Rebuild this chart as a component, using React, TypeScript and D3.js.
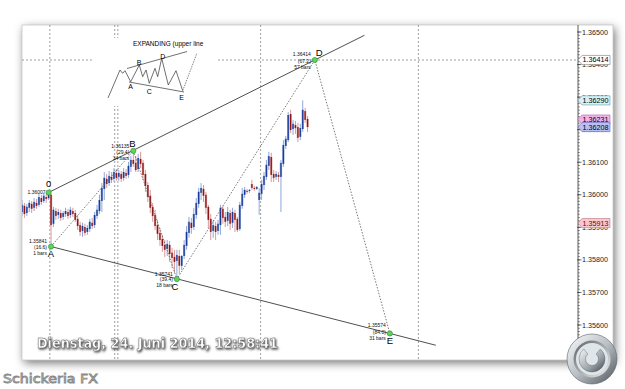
import React from "react";
import * as d3 from "d3";

// ---------- data ----------
const opens = [
  1.35947, 1.35966, 1.35944, 1.3596, 1.35972, 1.3596, 1.35975, 1.35969, 1.3599, 1.35981,
  1.35993, 1.3599, 1.36, 1.35911, 1.3595, 1.35938, 1.35944, 1.35932, 1.35941, 1.35947,
  1.35938, 1.3595, 1.35944, 1.35926, 1.35907, 1.35889, 1.35901, 1.35886, 1.35895, 1.35914,
  1.35907, 1.35935, 1.3595, 1.35981, 1.36018, 1.36049, 1.36036, 1.36055, 1.36049, 1.36067,
  1.36055, 1.36064, 1.36052, 1.36067, 1.36061, 1.36086, 1.36107, 1.36098, 1.36079, 1.3611,
  1.36098, 1.36064, 1.3603, 1.35997, 1.35963, 1.35938, 1.35907, 1.35883, 1.35864, 1.35846,
  1.35834, 1.35846, 1.35822, 1.35809, 1.35797, 1.35812, 1.35782, 1.35812, 1.35843, 1.35883,
  1.35914, 1.35901, 1.35938, 1.35972, 1.36006, 1.36018, 1.36, 1.35963, 1.35926, 1.35889,
  1.35904, 1.35889, 1.35907, 1.35957, 1.35932, 1.3592, 1.35944, 1.35914, 1.35944, 1.35926,
  1.35895, 1.35966, 1.36, 1.36012, 1.36012, 1.36033, 1.36021, 1.36018, 1.35984, 1.36003,
  1.3603, 1.36055, 1.36089, 1.36116, 1.36064, 1.36055, 1.36061, 1.36055, 1.36095, 1.3615,
  1.36168, 1.36248, 1.36202, 1.36214, 1.36208, 1.36178, 1.36202, 1.36257, 1.36233,
];
const highs = [
  1.35984, 1.35975, 1.35972, 1.35984, 1.35981, 1.3599, 1.35987, 1.36003, 1.36, 1.36006,
  1.36006, 1.36007, 1.36004, 1.35963, 1.3596, 1.35957, 1.35954, 1.3595, 1.3596, 1.35957,
  1.35963, 1.3596, 1.35954, 1.35938, 1.35917, 1.35914, 1.35911, 1.35907, 1.35926, 1.35929,
  1.35947, 1.35969, 1.36, 1.36036, 1.3607, 1.36064, 1.36073, 1.3607, 1.36082, 1.36079,
  1.36076, 1.36073, 1.36082, 1.36079, 1.36101, 1.36119, 1.36135, 1.36119, 1.36125, 1.36132,
  1.36107, 1.36076, 1.36039, 1.36015, 1.35975, 1.35954, 1.35923, 1.35898, 1.35877, 1.35861,
  1.35861, 1.35858, 1.35837, 1.35831, 1.35831, 1.35831, 1.35815, 1.35861, 1.35904, 1.35932,
  1.35929, 1.3596, 1.3599, 1.36021, 1.36036, 1.3603, 1.36009, 1.35969, 1.35941, 1.35923,
  1.35917, 1.35923, 1.35969, 1.35966, 1.35947, 1.35963, 1.35954, 1.3596, 1.35954, 1.35932,
  1.35978, 1.36021, 1.36024, 1.36018, 1.36018, 1.36046, 1.36027, 1.36027, 1.36021, 1.36046,
  1.3607, 1.36107, 1.36132, 1.36129, 1.36076, 1.36073, 1.3607, 1.36107, 1.36168, 1.36181,
  1.36254, 1.36261, 1.3623, 1.36227, 1.36221, 1.36218, 1.3629, 1.36267, 1.36242,
];
const lows = [
  1.35935, 1.35929, 1.35935, 1.35947, 1.35944, 1.3595, 1.35957, 1.35963, 1.35969, 1.35975,
  1.35975, 1.35984, 1.35841, 1.35901, 1.35923, 1.35926, 1.3592, 1.35923, 1.35932, 1.35926,
  1.35929, 1.35932, 1.35917, 1.35892, 1.35874, 1.35871, 1.35874, 1.35877, 1.35886, 1.35895,
  1.35898, 1.35926, 1.35941, 1.35947, 1.35984, 1.36021, 1.36027, 1.36036, 1.36039, 1.36043,
  1.36043, 1.36039, 1.36043, 1.36049, 1.36052, 1.3607, 1.36086, 1.3607, 1.3607, 1.36082,
  1.36046, 1.36009, 1.35978, 1.35944, 1.35917, 1.35892, 1.35861, 1.35843, 1.35825, 1.35809,
  1.35812, 1.35794, 1.35775, 1.3576, 1.35741, 1.35757, 1.35769, 1.35803, 1.35831, 1.35868,
  1.3588, 1.35892, 1.35926, 1.3596, 1.35984, 1.35978, 1.35941, 1.35898, 1.35861, 1.35868,
  1.35861, 1.35877, 1.35877, 1.35911, 1.35901, 1.35904, 1.35892, 1.35898, 1.35886, 1.35886,
  1.35889, 1.35957, 1.3599, 1.36003, 1.36006, 1.36015, 1.36012, 1.36015, 1.35938, 1.35984,
  1.36015, 1.36046, 1.36076, 1.36039, 1.36039, 1.36046, 1.36039, 1.35947, 1.36086, 1.36141,
  1.36162, 1.3619, 1.36184, 1.36187, 1.36162, 1.36168, 1.36193, 1.36221, 1.36193,
];
const closes = [
  1.35969, 1.35941, 1.35963, 1.35975, 1.35957, 1.35978, 1.35966, 1.35993, 1.35978, 1.35997,
  1.35987, 1.36003, 1.35907, 1.35954, 1.35935, 1.35947, 1.35929, 1.35944, 1.3595, 1.35935,
  1.35954, 1.35941, 1.35923, 1.35904, 1.35886, 1.35904, 1.35883, 1.35898, 1.35917, 1.35904,
  1.35938, 1.35954, 1.35984, 1.36021, 1.36052, 1.36033, 1.36058, 1.36046, 1.3607, 1.36052,
  1.36067, 1.36049, 1.3607, 1.36058, 1.36089, 1.36107, 1.36095, 1.36076, 1.36113, 1.36095,
  1.36061, 1.36027, 1.35993, 1.3596, 1.35935, 1.35904, 1.3588, 1.35861, 1.35843, 1.35831,
  1.35849, 1.35818, 1.35806, 1.35794, 1.35815, 1.35782, 1.35812, 1.35846, 1.35886, 1.35917,
  1.35898, 1.35941, 1.35975, 1.36009, 1.36021, 1.35997, 1.3596, 1.35923, 1.35886, 1.35907,
  1.35886, 1.35911, 1.3596, 1.35929, 1.35917, 1.35947, 1.35911, 1.35947, 1.35923, 1.35892,
  1.35969, 1.36003, 1.36015, 1.36009, 1.36015, 1.36021, 1.36018, 1.36024, 1.36006, 1.36033,
  1.36058, 1.36092, 1.36119, 1.36061, 1.36052, 1.36064, 1.36055, 1.36098, 1.36153, 1.36172,
  1.36245, 1.36199, 1.36218, 1.36205, 1.36175, 1.36205, 1.36261, 1.3623, 1.36208,
];

const waveNames = ["0", "A", "B", "C", "D", "E"];
const waveBars = [11, 12, 46, 64, 121, 152];
const wavePrices = [1.36007, 1.35841, 1.36135, 1.35741, 1.36414, 1.35574];
const wavePriceText = ["1.36007", "1.35841", "1.36135", "1.35741", "1.36414", "1.35574"];
const waveMoveText = ["", "(16.6)", "(29.4)", "(39.4)", "(67.2)", "(84.0)"];
const waveBarsText = ["", "1 bars", "34 bars", "18 bars", "57 bars", "31 bars"];

const sessionBreaks = [11.5, 38.3, 39.6, 98.6, 163.8];
const axisTicks = [1.355, 1.356, 1.357, 1.358, 1.359, 1.36, 1.361, 1.362, 1.363, 1.364, 1.365];
const priceTags = [
  { v: 1.36414, fill: "#ffffff", stroke: "#777", text: "#000" },
  { v: 1.3629, fill: "#d6f1f7", stroke: "#6a9aa8", text: "#000" },
  { v: 1.36231, fill: "#f2b3ea", stroke: "#b060a8", text: "#000" },
  { v: 1.36208, fill: "#b9bff2", stroke: "#6068b8", text: "#000" },
  { v: 1.35913, fill: "#f7c9cf", stroke: "#c07080", text: "#700" },
];
const dateText = "Dienstag, 24. Juni 2014, 12:58:41";
const brandText = "Schickeria FX";
const insetTitle = "EXPANDING  (upper line";

// ---------- layout ----------
const W = 625, H = 389;
const panel = { x: 22, y: 25, w: 591, h: 335 };
const axisX = 578;

const x = d3.scaleLinear().domain([0, 152]).range([22, 389.84]);
const y = d3.scaleLinear().domain([1.356, 1.365]).range([325, 32]);
const fmt = d3.format(".5f");

export default function App() {
  const candles = d3.range(closes.length).map((i) => ({
    i, o: opens[i], h: highs[i], l: lows[i], c: closes[i],
  }));
  const line = d3.line<[number, number]>().x((d) => x(d[0])).y((d) => y(d[1]));
  const ext = (i0: number, i1: number, iEnd: number): [number, number][] => {
    const p0 = wavePrices[i0], p1 = wavePrices[i1];
    const b0 = waveBars[i0], b1 = waveBars[i1];
    const slope = (p1 - p0) / (b1 - b0);
    return [[b0, p0], [iEnd, p0 + slope * (iEnd - b0)]];
  };
  const upper = ext(0, 4, 141.5);
  const lower = ext(1, 5, 171);
  const wavePts: [number, number][] = waveBars.map((b, k) => [b, wavePrices[k]]);
  const minorTicks = d3.range(13550, 13651).map((v) => v / 10000);

  const lab = [
    { tx: -3, ty: [0], lx: 0, ly: -5 },
    { tx: -4, ty: [-5, 1, 7], lx: 0, ly: 10 },
    { tx: -4, ty: [-5, 1, 7], lx: -1, ly: -4 },
    { tx: -4, ty: [-5, 0.5, 6], lx: -2, ly: 11 },
    { tx: -4, ty: [-6, 1, 7], lx: 1, ly: -4 },
    { tx: -4, ty: [-8, -1, 5], lx: 0, ly: 11 },
  ];

  const insetZig: [number, number][] = [[108,98],[120,70],[122.7,73.3],[125,70.7],[130.7,81.7],[139.3,65],[142.7,76.7],[146,70],[149.3,83.3],[155,68.3],[157.7,76.7],[161.7,58.3],[168.3,85],[176,70.7],[182.7,90.7]];
  const tagW = 32;

  return (
    <svg width={W} height={H} style={{ position: "absolute", left: 0, top: 0, background: "#fff" }}
      fontFamily="'Liberation Sans', Arial, sans-serif">
      <defs>
        <filter id="shadow" x="-10%" y="-10%" width="120%" height="125%">
          <feDropShadow dx="2" dy="3" stdDeviation="5" floodColor="#000" floodOpacity="0.55" />
        </filter>
        <filter id="txtShadow" x="-5%" y="-30%" width="110%" height="160%">
          <feDropShadow dx="1" dy="1.2" stdDeviation="0.9" floodColor="#222" floodOpacity="0.9" />
        </filter>
        <clipPath id="plot">
          <rect x={panel.x} y={panel.y} width={axisX - panel.x} height={panel.h} />
        </clipPath>
        <linearGradient id="ringG" x1="0" y1="0" x2="1" y2="1">
          <stop offset="0" stopColor="#fbfcfd" />
          <stop offset="0.5" stopColor="#b9c0c6" />
          <stop offset="1" stopColor="#4d5358" />
        </linearGradient>
        <linearGradient id="innerG" x1="0" y1="0" x2="1" y2="1">
          <stop offset="0" stopColor="#5a6166" />
          <stop offset="1" stopColor="#f2f4f6" />
        </linearGradient>
        <linearGradient id="cG" x1="0" y1="0" x2="1" y2="1">
          <stop offset="0" stopColor="#f6f8fa" />
          <stop offset="0.6" stopColor="#9aa3aa" />
          <stop offset="1" stopColor="#3f454a" />
        </linearGradient>
      </defs>

      <rect x={0} y={0} width={W} height={H} fill="#fff" />
      <rect x={panel.x} y={panel.y} width={panel.w} height={panel.h} fill="#fff" filter="url(#shadow)" />
      <rect x={panel.x} y={panel.y} width={panel.w} height={panel.h} fill="#fff" stroke="#c8c8c8" strokeWidth={0.8} />

      <g clipPath="url(#plot)">
        {sessionBreaks.map((b, k) => (
          <line key={k} x1={x(b)} x2={x(b)} y1={panel.y} y2={panel.y + panel.h}
            stroke="#888" strokeWidth={0.8} strokeDasharray="2,2" />
        ))}
        <line x1={panel.x} x2={axisX} y1={y(wavePrices[4])} y2={y(wavePrices[4])}
          stroke="#888" strokeWidth={0.8} strokeDasharray="2,2" />

        {candles.map((d) => {
          const up = d.c >= d.o;
          const cx = x(d.i);
          const top = y(Math.max(d.o, d.c));
          const bh = Math.max(1, Math.abs(y(d.o) - y(d.c)));
          return (
            <g key={d.i}>
              <line x1={cx} x2={cx} y1={y(d.h)} y2={y(d.l)} stroke={up ? "#8ea9d8" : "#d89a9a"} strokeWidth={1} />
              <rect x={cx - 1.2} y={top} width={2.4} height={bh} fill={up ? "#9db6e2" : "#e2a9a9"} />
              <rect x={cx - 0.65} y={top} width={1.3} height={bh} fill={up ? "#1c3a96" : "#8e1515"} />
            </g>
          );
        })}

        <path d={line(upper) || ""} fill="none" stroke="#222" strokeWidth={0.8} />
        <path d={line(lower) || ""} fill="none" stroke="#222" strokeWidth={0.8} />
        <path d={line(wavePts.slice(1)) || ""} fill="none" stroke="#555" strokeWidth={0.8} strokeDasharray="1.5,1.5" />

        {wavePts.map((p, k) => (
          <circle key={k} cx={x(p[0])} cy={y(p[1])} r={2.6} fill="#5fd35f" stroke="#2b8a2b" strokeWidth={0.6} />
        ))}
        {wavePts.map((p, k) => {
          const L = lab[k];
          const px = x(p[0]), py = y(p[1]);
          const lines = [wavePriceText[k], waveMoveText[k], waveBarsText[k]].filter((t) => t);
          return (
            <g key={"l" + k}>
              {lines.map((t, j) => (
                <text key={j} x={px + L.tx} y={py + L.ty[j] + 1.8} fontSize={5} textAnchor="end" fill="#111">{t}</text>
              ))}
              <text x={px + L.lx} y={py + L.ly} fontSize={9.5} textAnchor={k === 4 ? "start" : "middle"} fill="#000">{waveNames[k]}</text>
            </g>
          );
        })}
      </g>

      {/* inset schematic */}
      <rect x={93} y={38} width={124} height={68} fill="#fff" />
      <text x={133} y={46} fontSize={6.5} fill="#000">{insetTitle}</text>
      <path d={d3.line()(insetZig) || ""} fill="none" stroke="#333" strokeWidth={0.7} />
      <line x1={182.7} y1={90.7} x2={197} y2={53} stroke="#555" strokeWidth={0.7} strokeDasharray="1.5,1" />
      <line x1={127} y1={68.5} x2={187} y2={51.5} stroke="#333" strokeWidth={0.7} />
      <line x1={129} y1={82} x2={184} y2={92} stroke="#333" strokeWidth={0.7} />
      {[["A", 130.7, 89], ["B", 139, 64.5], ["C", 149.3, 93.5], ["D", 162.7, 59], ["E", 181.7, 99.5]].map((t) => (
        <text key={t[0] as string} x={t[1] as number} y={t[2] as number} fontSize={7} textAnchor="middle" fill="#000">{t[0]}</text>
      ))}

      {/* price axis */}
      <line x1={axisX} x2={axisX} y1={panel.y} y2={panel.y + panel.h} stroke="#333" strokeWidth={0.8} />
      {minorTicks.map((v, k) => (
        y(v) > panel.y && y(v) < panel.y + panel.h ? (
          <line key={k} x1={axisX} x2={axisX + 1.8} y1={y(v)} y2={y(v)} stroke="#333" strokeWidth={0.6} />
        ) : null
      ))}
      {axisTicks.map((v) => (
        <g key={v}>
          <line x1={axisX - 1} x2={axisX + 3.5} y1={y(v)} y2={y(v)} stroke="#333" strokeWidth={0.7} />
          <text x={axisX + 4} y={y(v) + 2.5} fontSize={7.2} fill="#222">{fmt(v)}</text>
        </g>
      ))}
      {priceTags.map((t) => {
        const ty = y(t.v);
        return (
          <g key={t.v}>
            <path d={`M${axisX},${ty} L${axisX + 4},${ty - 4.6} L${axisX + tagW},${ty - 4.6} L${axisX + tagW},${ty + 4.6} L${axisX + 4},${ty + 4.6} Z`}
              fill={t.fill} stroke={t.stroke} strokeWidth={0.6} />
            <text x={axisX + 4.5} y={ty + 2.5} fontSize={7.2} fill={t.text}>{fmt(t.v)}</text>
          </g>
        );
      })}

      {/* copyright logo */}
      <g transform="translate(592,359)">
        <circle r={25} fill="url(#ringG)" stroke="#5b6166" strokeWidth={0.6} />
        <circle r={18.5} fill="url(#innerG)" />
        <circle r={16} fill="#dfe6ea" />
        <path d={d3.arc()({ innerRadius: 6.5, outerRadius: 13, startAngle: Math.PI * 0.22, endAngle: Math.PI * 1.78 }) || ""}
          fill="url(#cG)" stroke="#555" strokeWidth={0.4} />
      </g>

      {/* date and brand */}
      <text x={37} y={348} fontSize={14} fontWeight="bold" fill="#fff" stroke="#666" strokeWidth={0.5}
        fontFamily="'DejaVu Sans', Verdana, sans-serif" textLength={241} lengthAdjust="spacingAndGlyphs"
        filter="url(#txtShadow)">{dateText}</text>
      <text x={3} y={383} fontSize={12.5} fill="#fff" stroke="#8a8a8a" strokeWidth={0.9}
        fontFamily="'DejaVu Sans', Verdana, sans-serif" textLength={95} lengthAdjust="spacingAndGlyphs">{brandText}</text>
    </svg>
  );
}
